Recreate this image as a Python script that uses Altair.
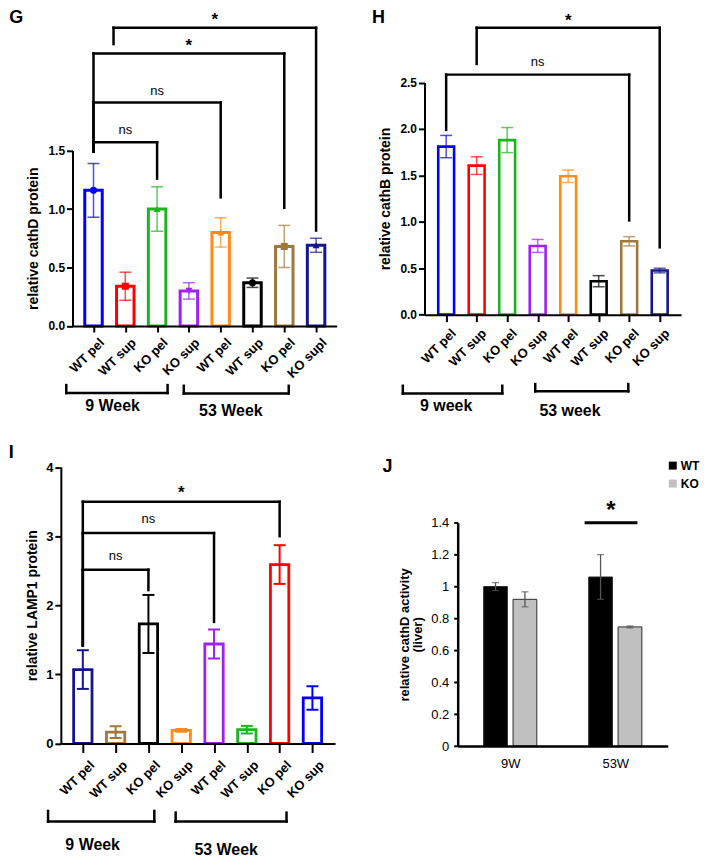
import json
import altair as alt
import pandas as pd

FONT = "Liberation Sans"

# ---------------- values ----------------
# Panel G: relative cathD protein
g_labels = ["WT pel", "WT sup", "KO pel", "KO sup", "WT pel", "WT sup", "KO pel", "KO supl"]
g_means = [1.16, 0.34, 1.00, 0.30, 0.80, 0.37, 0.68, 0.69]
g_errs = [0.23, 0.12, 0.19, 0.07, 0.125, 0.04, 0.18, 0.06]

# Panel H: relative cathB protein
h_labels = ["WT pel", "WT sup", "KO pel", "KO sup", "WT pel", "WT sup", "KO pel", "KO sup"]
h_means = [1.81, 1.605, 1.88, 0.74, 1.49, 0.36, 0.79, 0.475]
h_errs = [0.12, 0.095, 0.135, 0.07, 0.067, 0.06, 0.05, 0.025]

# Panel I: relative LAMP1 protein
i_labels = ["WT pel", "WT sup", "KO pel", "KO sup", "WT pel", "WT sup", "KO pel", "KO sup"]
i_means = [1.07, 0.165, 1.73, 0.19, 1.44, 0.20, 2.59, 0.66]
i_errs = [0.28, 0.085, 0.42, 0.02, 0.21, 0.055, 0.28, 0.17]

# Panel J: relative cathD activity (liver)
j_ages = ["9W", "53W"]
j_genotypes = ["WT", "KO"]
j_wt_means = [1.00, 1.06]
j_wt_errs = [0.025, 0.14]
j_ko_means = [0.92, 0.747]
j_ko_errs = [0.047, 0.006]

# ---------------- annotations (bar-index / data units) ----------------
g_sig_left = [0, 0, 0, 0.63]
g_sig_right = [2, 4, 6, 7]
g_sig_top = [1.57, 1.91, 2.33, 2.55]
g_sig_lbot = [1.49, 1.49, 1.49, 2.41]
g_sig_rbot = [1.26, 1.10, 1.01, 0.816]
g_sig_text = ["ns", "ns", "*", "*"]

h_sig_left = [0, 1]
h_sig_right = [6, 7]
h_sig_top = [2.585, 3.09]
h_sig_lbot = [1.99, 2.70]
h_sig_rbot = [1.015, 0.725]
h_sig_text = ["ns", "*"]

i_sig_left = [0, 0, 0]
i_sig_right = [2, 4, 6]
i_sig_top = [2.516, 3.045, 3.50]
i_sig_lbot = [1.42, 1.42, 1.42]
i_sig_rbot = [2.22, 1.76, 3.0]
i_sig_text = ["ns", "ns", "*"]

g_grp_names = ["9 Week", "53 Week"]
g_grp_lo = [-0.856, 2.84]
g_grp_hi = [2.33, 6.14]
g_grp_line = [-0.573, -0.576]
g_grp_leg = [-0.505, -0.511]
g_grp_tx = [0.6, 4.32]
g_grp_ty = [-0.687, -0.724]

h_grp_names = ["9 week", "53 week"]
h_grp_lo = [-1.42, 2.92]
h_grp_hi = [1.84, 5.97]
h_grp_line = [-0.848, -0.826]
h_grp_leg = [-0.766, -0.748]
h_grp_tx = [0.0, 4.06]
h_grp_ty = [-0.984, -1.041]

i_grp_names = ["9 Week", "53 Week"]
i_grp_lo = [-1.06, 2.83]
i_grp_hi = [2.18, 6.21]
i_grp_line = [-1.13, -1.13]
i_grp_leg = [-0.976, -1.0]
i_grp_tx = [0.3, 4.37]
i_grp_ty = [-1.475, -1.535]

j_sig_lo = [0.708]
j_sig_hi = [1.211]
j_sig_y = [1.4]
j_sig_text = ["*"]

# ---------------- styles ----------------
BLUE, RED, GREEN, PURPLE = "#0000ff", "#ff0000", "#1cb51c", "#a020f0"
ORANGE, BLACK, BROWN, NAVY = "#ff8c1a", "#000000", "#a0783c", "#16168c"
g_colors = [BLUE, RED, GREEN, PURPLE, ORANGE, BLACK, BROWN, NAVY]
h_colors = [BLUE, RED, GREEN, PURPLE, ORANGE, BLACK, BROWN, NAVY]
i_colors = [NAVY, BROWN, BLACK, ORANGE, PURPLE, GREEN, RED, BLUE]
g_shapes = ["circle", "square", "triangle-up", "triangle-down", "triangle-up",
            "circle", "square", "triangle-up"]


def sig_segments(left, right, top, lbot, rbot):
    rows = []
    for l, r, t, lb, rb in zip(left, right, top, lbot, rbot):
        rows.append({"x": l, "x2": r, "y": t, "y2": t})
        rows.append({"x": l, "x2": l, "y": t, "y2": lb})
        rows.append({"x": r, "x2": r, "y": t, "y2": rb})
    return pd.DataFrame(rows)


def grp_segments(lo, hi, line, leg):
    rows = []
    for a, b, ln, lg in zip(lo, hi, line, leg):
        rows.append({"x": a, "x2": b, "y": ln, "y2": ln})
        rows.append({"x": a, "x2": a, "y": ln, "y2": lg})
        rows.append({"x": b, "x2": b, "y": ln, "y2": lg})
    return pd.DataFrame(rows)


def bar_panel(letter, labels, means, errs, colors, shapes, sig, grp, c):
    n = len(labels)
    df = pd.DataFrame({"i": list(range(n)), "mean": means, "err": errs, "color": colors})
    df["lo"] = df["mean"] - df["err"]
    df["hi"] = df["mean"] + df["err"]
    if shapes is not None:
        df["shape"] = shapes

    xs = alt.Scale(domain=c["xdom"], range=c["xrange"], nice=False, zero=False)
    ys = alt.Scale(domain=c["ydom"], range=c["yrange"], nice=False, zero=False)
    xaxis = alt.Axis(
        values=list(range(n)), labelExpr=json.dumps(labels) + "[datum.value]", title=None,
        grid=False, labelAngle=-45, labelAlign="right", labelBaseline="top",
        labelFontSize=13, labelFontWeight="bold", labelPadding=c["lpad"],
        labelOffset=c["loff"], domainWidth=2, tickWidth=2, tickSize=c["tick"],
        offset=c["xoff"], zindex=1, labelOverlap=False, labelBound=False,
        minExtent=0,
    )
    yaxis = alt.Axis(
        values=c["yvals"], format=c["yfmt"], title=c["ytitle"], grid=False,
        labelFontSize=c["ylfs"], labelFontWeight="bold", labelPadding=2,
        titleFontSize=14, titleFontWeight="bold", titlePadding=c["tpad"],
        domainWidth=2, tickWidth=2, tickSize=6, offset=c["yoff"], zindex=1,
        labelOverlap=False, minExtent=0,
    )

    def X(f):
        return alt.X(f, type="quantitative", scale=xs, axis=xaxis)

    def Y(f):
        return alt.Y(f, type="quantitative", scale=ys, axis=yaxis)

    base = alt.Chart(df)
    hw = c["hw"]
    bars = base.transform_calculate(
        x0=f"datum.i - {hw}", x1=f"datum.i + {hw}", zero="0"
    ).mark_bar(fill="white", strokeWidth=c["bar_sw"]).encode(
        x=X("x0"), x2="x1:Q", y=Y("mean"), y2="zero:Q",
        stroke=alt.Stroke("color:N", scale=None),
    )
    err = base.mark_rule(strokeWidth=c["err_sw"], opacity=c["err_op"]).encode(
        x=X("i"), y=Y("lo"), y2="hi:Q", color=alt.Color("color:N", scale=None)
    )
    caps = base.transform_fold(["lo", "hi"], as_=["end", "v"]).mark_tick(
        orient="horizontal", size=c["cap"], thickness=c["err_sw"], opacity=c["err_op"]
    ).encode(x=X("i"), y=Y("v:Q"), color=alt.Color("color:N", scale=None))
    layers = [bars, err, caps]
    if shapes is not None:
        pts = base.mark_point(filled=True, size=50, opacity=1).encode(
            x=X("i"), y=Y("mean"), color=alt.Color("color:N", scale=None),
            shape=alt.Shape("shape:N", scale=None),
        )
        layers.append(pts)

    left, right, top, lbot, rbot, text = sig
    seg = alt.Chart(sig_segments(left, right, top, lbot, rbot)).mark_rule(
        strokeWidth=2.5, color="black", strokeCap="square"
    ).encode(x=X("x"), x2="x2:Q", y=Y("y"), y2="y2:Q")
    lab = pd.DataFrame({"x": [(l + r) / 2 for l, r in zip(left, right)], "y": top, "text": text})
    ns = alt.Chart(lab).transform_filter("datum.text == 'ns'").mark_text(
        fontSize=13, baseline="alphabetic", dy=c["ns_dy"], color="black"
    ).encode(x=X("x"), y=Y("y"), text="text:N")
    star = alt.Chart(lab).transform_filter("datum.text == '*'").mark_text(
        fontSize=17, fontWeight="bold", baseline="alphabetic", dy=c["star_dy"], color="black"
    ).encode(x=X("x"), y=Y("y"), text="text:N")

    names, lo, hi, line, leg, tx, ty = grp
    gseg = alt.Chart(grp_segments(lo, hi, line, leg)).mark_rule(
        strokeWidth=2.5, color="black", strokeCap="square"
    ).encode(x=X("x"), x2="x2:Q", y=Y("y"), y2="y2:Q")
    gtxt = alt.Chart(pd.DataFrame({"x": tx, "y": ty, "text": names})).mark_text(
        fontSize=16, fontWeight="bold", baseline="middle", color="black"
    ).encode(x=X("x"), y=Y("y"), text="text:N")

    let = alt.Chart(pd.DataFrame({"t": [letter]})).mark_text(
        align="left", baseline="alphabetic", fontSize=18, fontWeight="bold", color="black"
    ).encode(text="t:N", x=alt.value(c["lx"]), y=alt.value(c["ly"]))

    layers += [seg, ns, star, gseg, gtxt, let]
    return alt.layer(*layers).properties(width=c["w"], height=c["h"])


# Column 1 cells start at I's y axis, column 2 cells at H's y axis;
# row 1 cells end at H's x axis, row 2 cells at I's x axis.
G = bar_panel(
    "G", g_labels, g_means, g_errs, g_colors, g_shapes,
    (g_sig_left, g_sig_right, g_sig_top, g_sig_lbot, g_sig_rbot, g_sig_text),
    (g_grp_names, g_grp_lo, g_grp_hi, g_grp_line, g_grp_leg, g_grp_tx, g_grp_ty),
    dict(w=277, h=310.3, xdom=[-0.66, 7.65], xrange=[11.7, 276.7], ydom=[0, 1.5],
         yrange=[321.7, 145.7], yvals=[0, 0.5, 1.0, 1.5], yfmt=".1f",
         ytitle="relative cathD protein", ylfs=12, tpad=7, xoff=11.4, yoff=-11.7,
         tick=6, lpad=4, loff=4, hw=0.275, bar_sw=3, err_sw=1.5, err_op=0.7, cap=12,
         ns_dy=-8, star_dy=-2.5, lx=-51.8, ly=17.5),
)

H = bar_panel(
    "H", h_labels, h_means, h_errs, h_colors, None,
    (h_sig_left, h_sig_right, h_sig_top, h_sig_lbot, h_sig_rbot, h_sig_text),
    (h_grp_names, h_grp_lo, h_grp_hi, h_grp_line, h_grp_leg, h_grp_tx, h_grp_ty),
    dict(w=258, h=310.3, xdom=[-0.71, 7.70], xrange=[0, 257.3], ydom=[0, 2.5],
         yrange=[310.3, 77.5], yvals=[0, 0.5, 1.0, 1.5, 2.0, 2.5], yfmt=".1f",
         ytitle="relative cathB protein", ylfs=12, tpad=7.5, xoff=0, yoff=0,
         tick=7, lpad=5, loff=3, hw=0.26, bar_sw=2.6, err_sw=1.5, err_op=0.7, cap=12,
         ns_dy=-9, star_dy=-1.5, lx=-52.7, ly=18),
)

I = bar_panel(
    "I", i_labels, i_means, i_errs, i_colors, None,
    (i_sig_left, i_sig_right, i_sig_top, i_sig_lbot, i_sig_rbot, i_sig_text),
    (i_grp_names, i_grp_lo, i_grp_hi, i_grp_line, i_grp_leg, i_grp_tx, i_grp_ty),
    dict(w=277, h=287.7, xdom=[-0.67, 7.69], xrange=[0, 275], ydom=[0, 4],
         yrange=[287.7, 10.5], yvals=[0, 1, 2, 3, 4], yfmt="d",
         ytitle="relative LAMP1 protein", ylfs=13, tpad=6, xoff=0, yoff=0,
         tick=9, lpad=6, loff=5, hw=0.28, bar_sw=2.8, err_sw=2, err_op=1, cap=12,
         ns_dy=-10, star_dy=-3.5, lx=-52.3, ly=1),
)

# ---------------- Panel J ----------------
jrows = []
for gi, age in enumerate(j_ages):
    jrows.append({"g": gi, "age": age, "geno": j_genotypes[0], "mean": j_wt_means[gi], "err": j_wt_errs[gi]})
    jrows.append({"g": gi, "age": age, "geno": j_genotypes[1], "mean": j_ko_means[gi], "err": j_ko_errs[gi]})
jdf = pd.DataFrame(jrows)

jxs = alt.Scale(domain=[-0.5, 1.5], range=[33.3, 244], nice=False, zero=False)
jys = alt.Scale(domain=[0, 1.4], range=[290.3, 66.3], nice=False, zero=False)
jxaxis = alt.Axis(values=[0, 1], labelExpr=json.dumps(j_ages) + "[datum.value]", title=None,
                  grid=False, labelAngle=0, ticks=False, labelFontSize=13, labelPadding=11,
                  domainWidth=2.5, zindex=1, offset=2.6, minExtent=0)
jyaxis = alt.Axis(values=[0, 0.2, 0.4, 0.6, 0.8, 1, 1.2, 1.4], format="~g",
                  title=["relative cathD activity", "(liver)"], grid=False,
                  labelFontSize=13, labelPadding=5, tickSize=4, tickWidth=2, domainWidth=2.5,
                  titleFontSize=13, titleFontWeight="bold", titlePadding=6, titleLineHeight=13,
                  zindex=1, minExtent=0, offset=-33.3)


def JX(f):
    return alt.X(f, type="quantitative", scale=jxs, axis=jxaxis)


def JY(f):
    return alt.Y(f, type="quantitative", scale=jys, axis=jyaxis)


jbase = alt.Chart(jdf).transform_calculate(
    pos="datum.g + (datum.geno == 'WT' ? -0.14 : 0.14)",
    x0="datum.pos - 0.113", x1="datum.pos + 0.113",
    lo="datum.mean - datum.err", hi="datum.mean + datum.err", zero="0",
)
jbars = jbase.mark_bar(stroke="#2a2a2a", strokeWidth=1).encode(
    x=JX("x0"), x2="x1:Q", y=JY("mean"), y2="zero:Q",
    color=alt.Color("geno:N", scale=alt.Scale(domain=j_genotypes, range=["#000000", "#c0c0c0"]),
                    legend=alt.Legend(orient="none", legendX=243, legendY=3, title=None,
                                      symbolType="square", symbolSize=64, symbolStrokeWidth=0,
                                      labelFontSize=12, labelFontWeight="bold", labelOffset=2,
                                      rowPadding=6, padding=0)),
)
jerr = jbase.mark_rule(color="#555555", strokeWidth=1.3).encode(x=JX("pos"), y=JY("lo"), y2="hi:Q")
jcaps = jbase.transform_fold(["lo", "hi"], as_=["end", "v"]).mark_tick(
    orient="horizontal", size=7, thickness=1.3, color="#555555"
).encode(x=JX("pos"), y=JY("v:Q"))
jsig = pd.DataFrame({"x": j_sig_lo, "x2": j_sig_hi, "y": j_sig_y, "text": j_sig_text})
jline = alt.Chart(jsig).mark_rule(strokeWidth=3, color="black").encode(
    x=JX("x"), x2="x2:Q", y=JY("y"))
jstar = alt.Chart(jsig).transform_calculate(xm="(datum.x + datum.x2) / 2").mark_text(
    fontSize=24, fontWeight="bold", baseline="alphabetic", dy=-5, color="black"
).encode(x=JX("xm"), y=JY("y"), text="text:N")
jlet = alt.Chart(pd.DataFrame({"t": ["J"]})).mark_text(
    align="left", baseline="alphabetic", fontSize=18, fontWeight="bold", color="black"
).encode(text="t:N", x=alt.value(-42), y=alt.value(15))
J = alt.layer(jbars, jerr, jcaps, jline, jstar, jlet).properties(width=258, height=287.7)

chart = alt.concat(
    G, H, I, J, columns=2, spacing={"row": 141.7, "column": 87.7}, bounds="flush", align="each"
).resolve_legend(color="independent").resolve_scale(color="independent").properties(
    padding={"top": -4, "left": 0, "right": 0, "bottom": 0}, background="white"
).configure(font=FONT).configure_view(stroke=None).configure_axis(
    labelFont=FONT, titleFont=FONT, labelColor="black", titleColor="black",
    domainColor="black", tickColor="black",
).configure_legend(labelFont=FONT, labelColor="black")

chart.save("out.html", embed_options={"renderer": "svg", "actions": False})
